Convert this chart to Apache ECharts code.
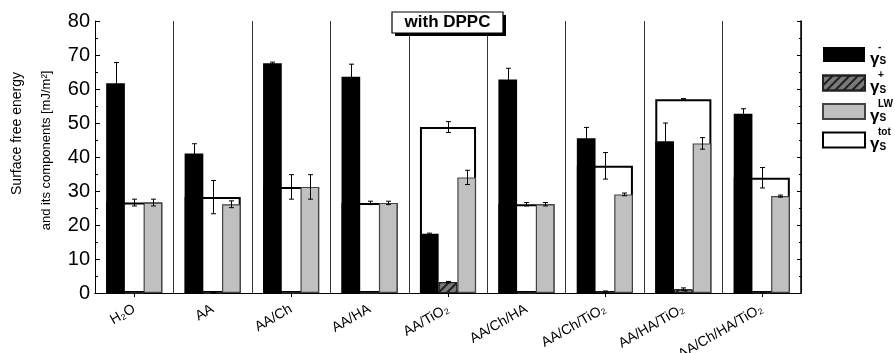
<!DOCTYPE html>
<html><head><meta charset="utf-8">
<script src="https://cdn.jsdelivr.net/npm/echarts@6/dist/echarts.min.js"></script>
<style>html,body{margin:0;padding:0;background:#fff}#c{width:895px;height:353px}</style>
</head><body><div id="c"></div>
<script>
// ---- data ----
const categories = ['H\u2082O','AA','AA/Ch','AA/HA','AA/TiO\u2082','AA/Ch/HA','AA/Ch/TiO\u2082','AA/HA/TiO\u2082','AA/Ch/HA/TiO\u2082'];
const gammaMinus    = [61.7, 41.0, 67.6, 63.6, 17.4, 62.8, 45.5, 44.6, 52.7];
const gammaMinusErr = [6.1, 2.9, 0.3, 3.7, 0.2, 3.3, 3.2, 5.4, 1.5];
const gammaPlus     = [0, 0.03, 0, 0, 3.2, 0, 0.4, 1.1, 0.14];
const gammaPlusErr  = [0, 0.05, 0, 0, 0.2, 0, 0.2, 0.4, 0.1];
const gammaLW       = [26.6, 26.1, 31.2, 26.5, 34.0, 26.1, 29.0, 44.0, 28.5];
const gammaLWErr    = [1.0, 1.0, 3.6, 0.5, 2.1, 0.5, 0.4, 1.7, 0.3];
const gammaTot      = [26.6, 28.2, 31.2, 26.5, 48.8, 26.1, 37.4, 57.0, 33.9];
const gammaTotErr   = [1.0, 4.9, 3.6, 0.5, 1.6, 0.5, 3.9, 0.2, 3.0];
const yTicks = {min: 0, max: 80, interval: 10};

// ---- style ----
const FONT = "'Liberation Sans', Arial, sans-serif";
const BAR_W = 18.7;
const chart = echarts.init(document.getElementById('c'), null, {renderer: 'canvas'});

function errSeries(name, values, errs, offsetK, color) {
  return {
    type: 'custom', name: name + '_err', xAxisIndex: 0, yAxisIndex: 0, z: 5, silent: true,
    encode: {x: 0, y: [1, 2]},
    data: values.map((v, i) => [i, v - errs[i], v + errs[i], errs[i]]),
    renderItem(params, api) {
      const e = api.value(3);
      if (!(e > 0)) return null;
      const i = api.value(0);
      const top = api.coord([i, api.value(2)]);
      const bot = api.coord([i, api.value(1)]);
      const x = Math.round(top[0] + offsetK * BAR_W) + 0.5;
      const h = 2.5;
      const st = {stroke: color, lineWidth: 1};
      return {type: 'group', children: [
        {type: 'line', shape: {x1: x, y1: top[1], x2: x, y2: bot[1]}, style: st},
        {type: 'line', shape: {x1: x - h, y1: top[1], x2: x + h, y2: top[1]}, style: st},
        {type: 'line', shape: {x1: x - h, y1: bot[1], x2: x + h, y2: bot[1]}, style: st}
      ]};
    }
  };
}

const legendLabels = {
  minus: '{sp| }{sup|-}\n{g|\u03B3}{sub|S}',
  plus:  '{sp| }{sup|+}\n{g|\u03B3}{sub|S}',
  lw:    '{sp| }{sup|LW}\n{g|\u03B3}{sub|S}',
  tot:   '{sp| }{sup|tot}\n{g|\u03B3}{sub|S}'
};

const option = {
  animation: false,
  backgroundColor: '#fff',
  textStyle: {fontFamily: FONT, color: '#000'},
  grid: {left: 95, right: 94, top: 21, bottom: 60, containLabel: false, outerBoundsMode: 'none'},
  legend: {
    orient: 'vertical', left: 817, top: 37, padding: 5, itemWidth: 42, itemHeight: 15, itemGap: 3,
    icon: 'rect', selectedMode: false,
    data: ['minus', 'plus', 'lw', 'tot'],
    formatter: n => legendLabels[n],
    textStyle: {
      color: '#000', fontFamily: FONT,
      rich: {
        sp: {width: 8, fontSize: 9, lineHeight: 9},
        sup: {fontSize: 10, fontWeight: 'bold', lineHeight: 9, fontFamily: FONT},
        g: {fontSize: 17, fontWeight: 'bold', lineHeight: 15, fontFamily: FONT},
        sub: {fontSize: 10, fontWeight: 'bold', lineHeight: 15, verticalAlign: 'bottom', fontFamily: FONT}
      }
    }
  },
  xAxis: [
    {
      type: 'category', data: categories, position: 'bottom', boundaryGap: true,
      axisLine: {show: true, lineStyle: {color: '#000', width: 1}},
      axisTick: {show: true, inside: true, alignWithLabel: true, length: 4, lineStyle: {color: '#000'}},
      axisLabel: {rotate: 30, fontSize: 14, color: '#000', margin: 15, fontFamily: FONT, hideOverlap: false},
      splitLine: {show: true, lineStyle: {color: '#333', width: 1}}
    },
    {
      type: 'category', data: categories, position: 'top', boundaryGap: true,
      axisLine: {show: true, lineStyle: {color: '#000', width: 1}},
      axisTick: {show: true, inside: true, alignWithLabel: true, length: 4, lineStyle: {color: '#000'}},
      axisLabel: {show: false},
      splitLine: {show: false}
    }
  ],
  yAxis: [
    {
      type: 'value', position: 'left', min: yTicks.min, max: yTicks.max, interval: yTicks.interval,
      axisLine: {show: true, lineStyle: {color: '#000', width: 1}},
      axisTick: {show: true, inside: true, length: 5, lineStyle: {color: '#000'}},
      minorTick: {show: true, splitNumber: 2, length: 3, lineStyle: {color: '#000'}},
      axisLabel: {fontSize: 20, color: '#000', margin: 5, fontFamily: FONT},
      splitLine: {show: false}
    },
    {
      type: 'value', position: 'right', min: yTicks.min, max: yTicks.max, interval: yTicks.interval,
      axisLine: {show: true, lineStyle: {color: '#000', width: 1.5}},
      axisTick: {show: true, inside: true, length: 4, lineStyle: {color: '#000'}},
      minorTick: {show: true, splitNumber: 2, length: 2, lineStyle: {color: '#000'}},
      axisLabel: {show: false},
      splitLine: {show: false}
    }
  ],
  series: [
    {
      type: 'bar', name: 'tot', xAxisIndex: 1, yAxisIndex: 0, z: 1, barWidth: 3 * BAR_W,
      data: gammaTot,
      itemStyle: {color: '#fff', borderColor: '#000', borderWidth: 2}
    },
    {
      type: 'bar', name: 'minus', xAxisIndex: 0, yAxisIndex: 0, z: 2, barWidth: BAR_W, barGap: '0%',
      data: gammaMinus,
      itemStyle: {color: '#000', borderColor: '#000', borderWidth: 0}
    },
    {
      type: 'bar', name: 'plus', xAxisIndex: 0, yAxisIndex: 0, z: 2, barWidth: BAR_W, barGap: '0%',
      data: gammaPlus,
      itemStyle: {
        color: '#7a7a7a', borderColor: '#222', borderWidth: 1,
        decal: {symbol: 'rect', symbolSize: 1, color: 'rgba(20,20,20,0.9)', dashArrayX: [1, 0], dashArrayY: [2, 4], rotation: -Math.PI / 4}
      }
    },
    {
      type: 'bar', name: 'lw', xAxisIndex: 0, yAxisIndex: 0, z: 2, barWidth: BAR_W, barGap: '0%',
      data: gammaLW,
      itemStyle: {color: '#c0c0c0', borderColor: '#444', borderWidth: 1.2}
    },
    errSeries('minus', gammaMinus, gammaMinusErr, -1, '#000'),
    errSeries('plus', gammaPlus, gammaPlusErr, 0, '#000'),
    errSeries('lw', gammaLW, gammaLWErr, 1, '#000'),
    errSeries('tot', gammaTot, gammaTotErr, 0, '#000')
  ],
  graphic: [
    {type: 'text', x: 17.5, y: 133.5, rotation: Math.PI / 2, z: 10,
      style: {text: 'Surface free energy', fontSize: 14, fontFamily: FONT, fill: '#000', align: 'center', verticalAlign: 'middle'}},
    {type: 'text', x: 46, y: 150.5, rotation: Math.PI / 2, z: 10,
      style: {text: 'and its components [mJ/m\u00B2]', fontSize: 13, fontFamily: FONT, fill: '#000', align: 'center', verticalAlign: 'middle'}},
    {type: 'rect', shape: {x: 395, y: 15, width: 111, height: 21}, style: {fill: '#000'}, z: 20},
    {type: 'rect', shape: {x: 392, y: 12, width: 111, height: 21}, style: {fill: '#fff', stroke: '#000', lineWidth: 1.2}, z: 21},
    {type: 'text', x: 447.5, y: 22.5, z: 22,
      style: {text: 'with DPPC', fontSize: 17, fontWeight: 'bold', fontFamily: FONT, fill: '#000', align: 'center', verticalAlign: 'middle'}}
  ]
};
chart.setOption(option);
</script>
</body></html>
